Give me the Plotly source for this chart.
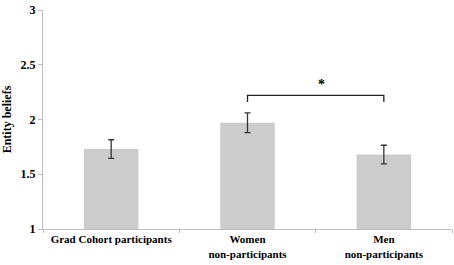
import plotly.graph_objects as go

# Group labels and mean entity beliefs with standard error
groups = ['Grad Cohort participants', 'Women<br>non-participants', 'Men<br>non-participants']
means = [1.73, 1.97, 1.68]
errors = [0.085, 0.09, 0.085]

# Significance bracket between women and men non-participants
bracket_y = [2.16, 2.22, 2.22, 2.16]
bracket_x = [groups[1], groups[1], groups[2], groups[2]]

serif = 'Liberation Serif'

fig = go.Figure()

fig.add_trace(go.Bar(
    x=groups,
    y=means,
    width=0.4,
    marker=dict(color='#cccccc', line=dict(width=0)),
    error_y=dict(type='data', array=errors, color='#333333', thickness=1.3, width=3),
    showlegend=False,
))

fig.add_trace(go.Scatter(
    x=bracket_x,
    y=bracket_y,
    mode='lines',
    line=dict(color='#222222', width=1.3),
    showlegend=False,
    hoverinfo='skip',
))

fig.add_annotation(x=1.54, y=2.32, text='<b>*</b>', showarrow=False,
                   font=dict(family=serif, size=14, color='black'))

fig.update_layout(
    width=454,
    height=265,
    margin=dict(l=43, r=2, t=10, b=36),
    plot_bgcolor='white',
    paper_bgcolor='white',
    font=dict(family=serif, size=11, color='black'),
    xaxis=dict(
        showline=True, linecolor='#bdbdbd', linewidth=1,
        ticks='outside', tickson='boundaries', ticklen=3, tickcolor='#bdbdbd',
        tickfont=dict(family=serif, size=11, color='black', weight='bold'),
        range=[-0.5, 2.5],
    ),
    yaxis=dict(
        range=[1, 3], dtick=0.5,
        showline=True, linecolor='#bdbdbd', linewidth=1,
        ticks='outside', ticklen=4, tickcolor='#bdbdbd',
        showgrid=False, zeroline=False,
        tickfont=dict(family=serif, size=12, color='black', weight='bold'),
        title=dict(text='<b>Entity beliefs</b>', standoff=10,
                   font=dict(family=serif, size=12, color='black')),
    ),
)

# drop the browser's default page margin so the figure sits at the top-left corner
fig.write_html('out.html', config={'displayModeBar': False},
               post_script="document.body.style.margin='0';")
